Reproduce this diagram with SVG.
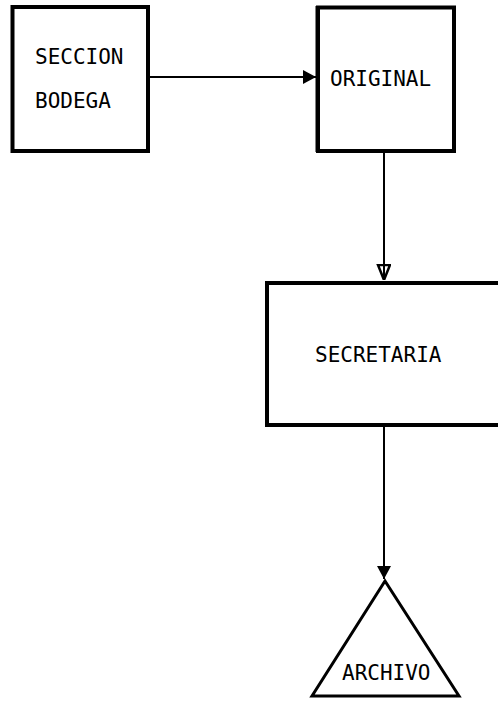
<svg xmlns="http://www.w3.org/2000/svg" width="498" height="705" viewBox="0 0 498 705">
<defs>
<style>
.box{fill:#fff;stroke:#000;stroke-width:4}
.tri{fill:#fff;stroke:#000;stroke-width:3;stroke-linejoin:miter}
.lbl{font-family:"DejaVu Sans Mono","Liberation Mono",monospace;font-size:21px;fill:#000}
.ln{stroke:#000;stroke-width:2;fill:none}
</style>
<marker id="ahFill" markerWidth="14" markerHeight="14" refX="13" refY="7" orient="auto" markerUnits="userSpaceOnUse">
<path d="M0,0 L13,7 L0,14 Z" fill="#000"/>
</marker>
<marker id="ahOpen" markerWidth="16" markerHeight="18" refX="16" refY="7" orient="auto" markerUnits="userSpaceOnUse">
<path d="M1,1 L16,7 L1,13 Z" fill="#fff" stroke="#000" stroke-width="2.5"/>
<path d="M1,7 L16,7" stroke="#000" stroke-width="2"/>
</marker>
</defs>
<rect width="498" height="705" fill="#fff"/>
<g id="connectors">
<line class="ln" x1="150" y1="77" x2="316" y2="77" marker-end="url(#ahFill)"/>
<line class="ln" x1="384" y1="153" x2="384" y2="280" marker-end="url(#ahOpen)"/>
<line class="ln" x1="384" y1="427" x2="384" y2="579" marker-end="url(#ahFill)"/>
</g>
<g id="seccion-bodega">
<rect class="box" x="12.5" y="7" width="135.5" height="144"/>
<text class="lbl" x="35" y="64">SECCION</text>
<text class="lbl" x="35" y="108">BODEGA</text>
</g>
<g id="original">
<rect class="box" x="318" y="7.5" width="136" height="143.5"/>
<line x1="317" y1="6" x2="317" y2="152" stroke="#000" stroke-width="3"/>
<text class="lbl" x="330" y="86">ORIGINAL</text>
</g>
<g id="secretaria">
<rect class="box" x="267" y="283" width="240" height="142"/>
<text class="lbl" x="315" y="362">SECRETARIA</text>
</g>
<g id="archivo">
<polygon class="tri" points="385,581 312,696 459,696"/>
<text class="lbl" x="342" y="680">ARCHIVO</text>
</g>
</svg>
